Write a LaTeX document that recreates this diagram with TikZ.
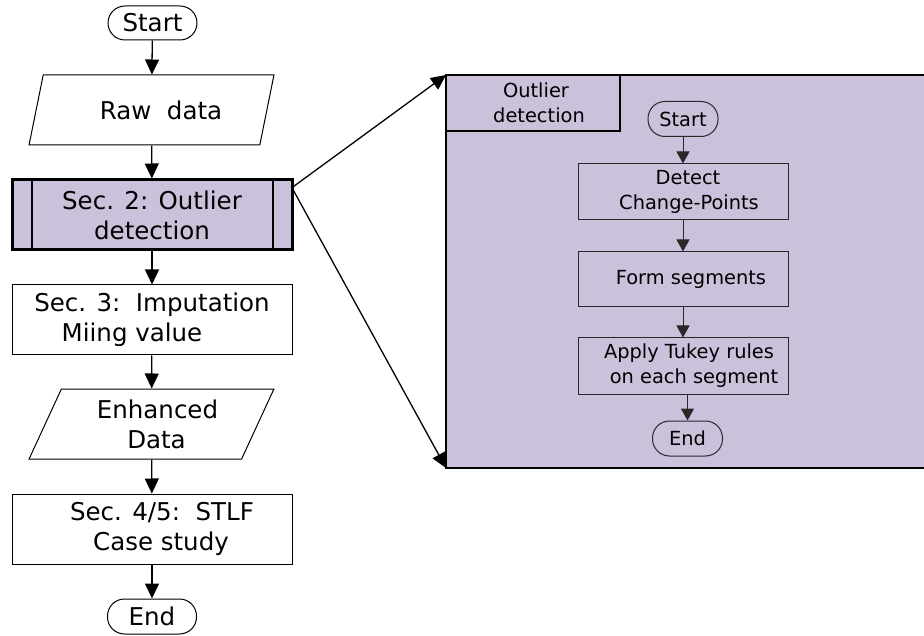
\documentclass[tikz,border=0pt]{standalone}
\usepackage{fontspec}
\setmainfont{DejaVu Sans}
\usetikzlibrary{arrows.meta,shapes.geometric}
\definecolor{lav}{RGB}{203,193,219}
\definecolor{edge}{RGB}{40,40,40}
\begin{document}
\begin{tikzpicture}[x=1pt,y=-1pt,
  big/.style={font=\fontsize{24.5}{30}\selectfont, align=center},
  small/.style={font=\fontsize{19.4}{25}\selectfont, align=center},
  term/.style={draw, rectangle, rounded corners=17pt, minimum width=89pt, minimum height=34pt, inner sep=0pt, line width=1pt, big},
  io/.style={draw, trapezium, trapezium left angle=64, trapezium right angle=116, trapezium stretches=true, minimum width=245pt, minimum height=70pt, inner sep=0pt, line width=1pt, big},
  proc/.style={draw, rectangle, minimum width=280pt, minimum height=70pt, inner sep=0pt, line width=1pt, big},
  subproc/.style={draw, rectangle, fill=lav, minimum width=280pt, minimum height=70pt, inner sep=0pt, line width=3pt, big},
  iproc/.style={draw=edge, rectangle, minimum width=210pt, minimum height=56pt, inner sep=0pt, line width=1pt, small},
  iterm/.style={draw=edge, rectangle, rounded corners=17pt, minimum width=70pt, minimum height=35pt, inner sep=0pt, line width=1pt, small},
  arr/.style={-{Triangle[length=15pt,width=14pt]}, line width=1.3pt},
  iarr/.style={-{Triangle[length=12pt,width=13pt]}, line width=1pt, draw=edge},
]
\useasboundingbox (0,0) rectangle (924,636);

% left column
\node[term] (start) at (152.5,23) {Start};
\node[io] (raw) at (151.5,110) {\hspace*{19pt}Raw~~data};
\node[subproc] (sec2) at (152,215) {Sec. 2: Outlier\\detection};
\draw[line width=2pt] ([xshift=21pt]sec2.north west) -- ([xshift=21pt]sec2.south west);
\draw[line width=2pt] ([xshift=-21pt]sec2.north east) -- ([xshift=-21pt]sec2.south east);
\node[proc] (sec3) at (152,320) {Sec. 3:~~Imputation\\Miing value\hspace*{40pt}};
\node[io] (enh) at (151.5,424) {\hspace*{12pt}Enhanced\\\hspace*{10pt}Data};
\node[proc] (sec45) at (152,529) {\hspace*{20pt}Sec. 4/5:~~STLF\\\hspace*{18pt}Case study};
\node[term, minimum height=35pt] (end) at (152,616.5) {End};

\draw[arr] (start) -- (raw);
\draw[arr] (raw) -- (sec2);
\draw[arr] (sec2) -- (sec3);
\draw[arr] (sec3) -- (enh);
\draw[arr] (enh) -- (sec45);
\draw[arr] (sec45) -- (end);

% right panel
\node[rectangle, fill=lav, minimum width=478pt, minimum height=393pt, inner sep=0pt, outer sep=0pt] (panel) at (685,271.5) {};
\draw[line width=1.3pt] (panel.north east) -- (panel.north west) -- (panel.south west) -- (panel.south east);
\node[rectangle, draw, line width=1.3pt, minimum width=174pt, minimum height=56pt, inner sep=0pt, small] (hdr) at (533,103) {\hspace*{6pt}Outlier\\\hspace*{12pt}detection};

\draw[arr] ([yshift=-8pt]sec2.north east) -- (panel.north west);
\draw[arr] ([yshift=-12pt]sec2.north east) -- (panel.south west);

\node[iterm] (istart) at (683,119) {Start};
\node[iproc] (detect) at (683,192) {\hspace*{10pt}Detect\\\hspace*{12pt}Change-Points};
\node[iproc, minimum height=55pt] (form) at (683,279.5) {\hspace*{16pt}Form segments};
\node[iproc] (apply) at (683,366) {\hspace*{12pt}Apply Tukey rules\\\hspace*{22pt}on each segment};
\node[iterm] (iend) at (687.5,438.5) {End};

\draw[iarr] (istart) -- (detect);
\draw[iarr] (detect) -- (form);
\draw[iarr] (form) -- (apply);
\draw[iarr] (apply.south -| iend) -- (iend);
\end{tikzpicture}
\end{document}
